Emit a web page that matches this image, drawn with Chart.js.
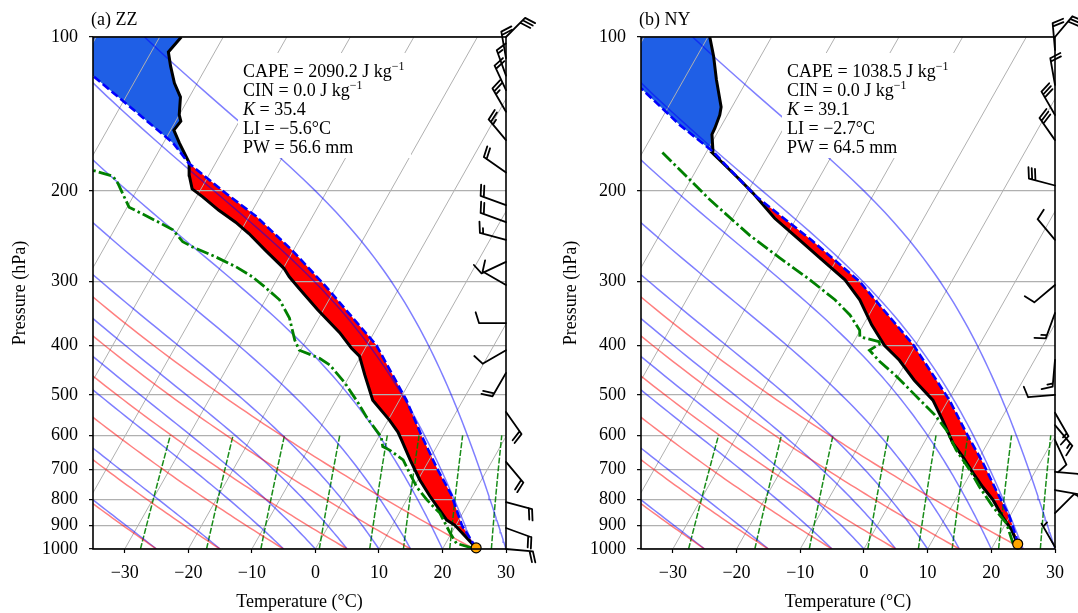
<!DOCTYPE html>
<html>
<head>
<meta charset="utf-8">
<script src="https://cdn.jsdelivr.net/npm/chart.js@4.4.1/dist/chart.umd.min.js"></script>
<style>
  body { margin: 0; background: #fff; width: 1078px; height: 613px; overflow: hidden; position: relative; }
  canvas { position: absolute; top: 0; }
  #ca { left: 0; }
  #cb { left: 539px; }
</style>
</head>
<body>
<canvas id="ca" width="539" height="613"></canvas>
<canvas id="cb" width="539" height="613"></canvas>
<script>
// axes
const tempTicks = [-30, -20, -10, 0, 10, 20, 30];
const pressTicks = [100, 200, 300, 400, 500, 600, 700, 800, 900, 1000];

// background lines of the skew-T (start temperatures at 1000 hPa)
const isothermT = [-90, -80, -70, -60, -50, -40, -30, -20, -10, 0, 10, 20, 30];
const dryT0 = [-35, -25, -15, -5, 5, 15, 25];
const moistT0 = [-35, -25, -15, -5, 0, 5, 10, 15, 20, 25, 30];
const mixRatio = [0.4, 1, 2, 4, 7, 10, 16, 24, 32]; // g/kg

// (a) ZZ
const zzTempP = [995, 898, 878, 788, 733, 670, 613, 591, 560, 512, 457, 420, 405, 378, 341, 310, 294, 283, 261, 242, 230, 218, 205, 198, 186, 176, 161, 152, 146, 142, 131, 123, 114, 107, 100];
const zzTempT = [25.2, 19.8, 18.1, 13.3, 10.3, 7.0, 3.9, 2.6, 0.2, -4.2, -7.7, -10.2, -12.2, -15.4, -20.9, -25.7, -28.3, -29.9, -34.4, -38.5, -41.6, -45.3, -49.1, -51.4, -53.1, -54.2, -57.5, -59.5, -59.2, -60.0, -61.4, -63.6, -65.7, -67.3, -66.6];
const zzDewP = [995, 975, 931, 851, 802, 756, 711, 670, 641, 631, 604, 586, 552, 519, 474, 437, 424, 409, 391, 354, 326, 307, 294, 281, 269, 257, 251, 238, 230, 215, 193, 187, 182, 176];
const zzDewT = [24.5, 21.7, 19.8, 16.4, 13.2, 10.4, 8.1, 5.9, 2.9, 1.5, 0.4, -1.0, -3.7, -6.2, -10.1, -14.1, -16.3, -20.2, -21.8, -24.6, -27.8, -31.4, -34.1, -37.6, -41.6, -46.2, -48.2, -50.8, -53.7, -59.7, -63.6, -65.0, -68.8, -74.0];
const zzParcelP = [995, 900, 784, 700, 600, 512, 400, 307, 261, 224, 202, 176.5, 161, 118.6, 100];
const zzParcelT = [25.2, 21.0, 16.6, 12.2, 6.6, 1.1, -8.5, -21.7, -30.2, -38.9, -45.7, -54.2, -58.5, -77.3, -87.0];
const zzEL = 176.5;
const zzBarbP = [100, 110, 119, 127, 140, 159, 184, 213, 230, 249, 275, 305, 362, 409, 453, 540, 676, 810, 910, 1000];
const zzBarbDir = [45, 350, 340, 335, 330, 320, 305, 290, 290, 285, 245, 300, 270, 240, 210, 145, 140, 105, 110, 95];
const zzBarbSpd = [30, 20, 15, 20, 25, 25, 20, 20, 20, 15, 10, 10, 10, 10, 20, 20, 20, 20, 20, 20];
const zzStats = ['2090.2', '0.0', '35.4', '\u22125.6', '56.6'];

// (b) NY
const nyTempP = [978, 918, 865, 802, 756, 711, 660, 622, 560, 512, 468, 428, 400, 365, 326, 298, 270, 249, 226, 202, 190, 179, 168.7, 166, 155, 150.7, 142, 137, 121, 109, 100];
const nyTempT = [23.7, 21.5, 18.9, 15.9, 13.1, 10.4, 7.3, 4.6, 0.9, -2.4, -7.1, -11.2, -14.9, -18.7, -22.8, -26.9, -32.8, -37.6, -43.4, -49.0, -52.3, -55.6, -58.9, -59.2, -60.7, -60.8, -61.2, -61.7, -64.9, -67.4, -69.7];
const nyDewP = [978, 891, 827, 756, 701, 641, 586, 547, 500, 457, 431, 409, 395, 385, 374, 349, 326, 298, 270, 244, 208, 168];
const nyDewT = [23.0, 20.1, 16.5, 12.6, 9.6, 5.7, 2.4, -0.8, -5.7, -10.6, -14.1, -16.8, -15.5, -19.5, -20.1, -23.0, -26.7, -32.4, -39.1, -45.8, -55.2, -66.9];
const nyParcelP = [978, 946, 865, 767, 680, 594, 512, 400, 300, 250, 205, 190, 167.5, 148.5, 126, 100];
const nyParcelT = [23.7, 22.8, 20.0, 15.5, 11.1, 5.8, 0.2, -10.3, -24.5, -35.5, -48.2, -52.3, -59.0, -66.6, -75.9, -88.5];
const nyEL = 168;
const nyBarbP = [100, 106, 124, 142, 159, 195, 249, 305, 346, 427, 500, 542, 573, 613, 707, 767, 851, 991];
const nyBarbDir = [40, 355, 350, 330, 325, 285, 320, 230, 200, 185, 265, 150, 140, 155, 95, 100, 45, 330];
const nyBarbSpd = [30, 20, 20, 30, 30, 30, 10, 10, 15, 15, 10, 15, 15, 10, 15, 15, 10, 5];
const nyStats = ['1038.5', '0.0', '39.1', '\u22122.7', '64.5'];

const SKEW = 45.5; // degC shift per decade of pressure (35 deg isotherms)
const FONT = '"Liberation Serif", "Times New Roman", serif';

function skewX(t, p) {
  return t + SKEW * Math.log10(1000 / p);
}

function profile(ps, ts) {
  return ps.map((p, i) => ({ x: skewX(ts[i], p), y: p }));
}

function dryLine(t0) {
  const pts = [];
  for (let p = 1000; p >= 100; p -= 10) {
    const t = (t0 + 273.15) * Math.pow(p / 1000, 0.2854) - 273.15;
    pts.push({ x: skewX(t, p), y: p });
  }
  return pts;
}

function satMix(p, tk) {
  const es = 6.112 * Math.exp(17.67 * (tk - 273.15) / (tk - 29.65));
  return 0.622 * es / (p - es);
}

function moistRate(p, tk) {
  const rs = satMix(p, tk);
  const Lv = 2.501e6, Rd = 287.04, Cp = 1005.7;
  return (Rd * tk + Lv * rs) / (Cp + Lv * Lv * rs * 0.622 / (Rd * tk * tk)) / p;
}

function moistLine(t0) {
  const pts = [];
  let t = t0 + 273.15;
  const h = -5;
  for (let p = 1000; p >= 100; p += h) {
    if (p % 10 === 0) pts.push({ x: skewX(t - 273.15, p), y: p });
    const k1 = moistRate(p, t);
    const k2 = moistRate(p + h / 2, t + h / 2 * k1);
    const k3 = moistRate(p + h / 2, t + h / 2 * k2);
    const k4 = moistRate(p + h, t + h * k3);
    t += h / 6 * (k1 + 2 * k2 + 2 * k3 + k4);
  }
  return pts;
}

function mixLine(wg) {
  const w = wg / 1000;
  const pts = [];
  for (let p = 1000; p >= 600; p -= 20) {
    const e = p * w / (0.622 + w);
    const l = Math.log(e / 6.112);
    const td = 243.5 * l / (17.67 - l);
    pts.push({ x: skewX(td, p), y: p });
  }
  return pts;
}

function lineSet(data, color, width, order, dash) {
  return {
    data: data,
    showLine: true,
    borderColor: color,
    borderWidth: width,
    borderDash: dash || [],
    pointRadius: 0,
    fill: false,
    tension: 0,
    clip: 0,
    order: order
  };
}

function drawBarb(ctx, x0, y0, dir, spd, L) {
  const r = dir * Math.PI / 180;
  const sx = Math.sin(r), sy = -Math.cos(r); // staff, toward upwind
  const bx = Math.cos(r), by = Math.sin(r);  // feather side
  const tipX = x0 + sx * L, tipY = y0 + sy * L;
  ctx.beginPath();
  ctx.moveTo(x0, y0);
  ctx.lineTo(tipX, tipY);
  let rest = spd;
  const nFlag = Math.floor(rest / 50); rest -= nFlag * 50;
  const nFull = Math.floor(rest / 10); rest -= nFull * 10;
  const nHalf = rest >= 5 ? 1 : 0;
  const sp = 0.125 * L, fh = 0.4 * L, fw = 0.25 * L;
  let d = 0;
  for (let i = 0; i < nFlag; i++) {
    const px = tipX - sx * d, py = tipY - sy * d;
    ctx.moveTo(px, py);
    ctx.lineTo(px + bx * fh - sx * fw / 2, py + by * fh - sy * fw / 2);
    ctx.lineTo(px - sx * fw, py - sy * fw);
    d += fw + sp;
  }
  for (let i = 0; i < nFull; i++) {
    const px = tipX - sx * d, py = tipY - sy * d;
    ctx.moveTo(px, py);
    ctx.lineTo(px + bx * fh + sx * fw / 2, py + by * fh + sy * fw / 2);
    d += sp;
  }
  if (nHalf) {
    if (nFlag + nFull === 0) d += sp;
    const px = tipX - sx * d, py = tipY - sy * d;
    ctx.moveTo(px, py);
    ctx.lineTo(px + bx * fh / 2 + sx * fw / 4, py + by * fh / 2 + sy * fw / 4);
  }
  ctx.stroke();
}

function makeDecor(s) {
  return {
    id: 'decor',
    beforeDraw(chart) {
      const { ctx, chartArea: a, scales } = chart;
      ctx.save();
      ctx.beginPath();
      ctx.rect(a.left, a.top, a.right - a.left, a.bottom - a.top);
      ctx.clip();
      s.fills.forEach(f => {
        ctx.beginPath();
        f.pts.forEach((pt, i) => {
          const px = scales.x.getPixelForValue(pt.x);
          const py = scales.y.getPixelForValue(pt.y);
          if (i) ctx.lineTo(px, py); else ctx.moveTo(px, py);
        });
        ctx.closePath();
        ctx.fillStyle = f.color;
        ctx.fill();
      });
      ctx.restore();
    },
    afterDatasetsDraw(chart) {
      const { ctx, chartArea: a, scales } = chart;
      ctx.save();
      // stats box
      const tx = a.left + s.textDx;
      ctx.fillStyle = '#fff';
      ctx.fillRect(tx - 5, 53, 173, 105);
      ctx.fillStyle = '#000';
      ctx.textBaseline = 'alphabetic';
      ctx.textAlign = 'left';
      const st = s.stats;
      const rows = [
        [{ t: 'CAPE = ' + st[0] + ' J kg' }, { t: '\u22121', sup: true }],
        [{ t: 'CIN = ' + st[1] + ' J kg' }, { t: '\u22121', sup: true }],
        [{ t: 'K', it: true }, { t: ' = ' + st[2] }],
        [{ t: 'LI = ' + st[3] + '\u00b0C' }],
        [{ t: 'PW = ' + st[4] + ' mm' }]
      ];
      rows.forEach((row, i) => {
        let cx = tx;
        const y = 76.5 + i * 19;
        row.forEach(part => {
          ctx.font = part.sup ? '12px ' + FONT : (part.it ? 'italic 18px ' + FONT : '18px ' + FONT);
          ctx.fillText(part.t, cx, part.sup ? y - 7 : y);
          cx += ctx.measureText(part.t).width;
        });
      });
      // frame
      ctx.strokeStyle = '#000';
      ctx.lineWidth = 1.6;
      ctx.strokeRect(a.left, a.top, a.right - a.left, a.bottom - a.top);
      // panel label and axis titles
      ctx.font = '18px ' + FONT;
      ctx.fillText(s.label, a.left - 2, 24.5);
      ctx.textAlign = 'center';
      ctx.fillText('Temperature (\u00b0C)', (a.left + a.right) / 2, 607);
      ctx.save();
      ctx.translate(s.yTitleX, (a.top + a.bottom) / 2);
      ctx.rotate(-Math.PI / 2);
      ctx.fillText('Pressure (hPa)', 0, 0);
      ctx.restore();
      // wind barbs on the right edge
      ctx.lineWidth = 1.8;
      ctx.lineCap = 'round';
      s.barbP.forEach((p, i) => {
        drawBarb(ctx, a.right, scales.y.getPixelForValue(p), s.barbDir[i], s.barbSpd[i], 27);
      });
      ctx.restore();
    }
  };
}

function buildPanel(id, s) {
  const sets = [];
  isothermT.forEach(t => sets.push(lineSet([{ x: skewX(t, 1000), y: 1000 }, { x: skewX(t, 100), y: 100 }], '#b0b0b0', 1, 12)));
  dryT0.forEach(t => sets.push(lineSet(dryLine(t), 'rgba(255,0,0,0.5)', 1.5, 11)));
  moistT0.forEach(t => sets.push(lineSet(moistLine(t), 'rgba(0,0,255,0.5)', 1.5, 11)));
  mixRatio.forEach(w => sets.push(lineSet(mixLine(w), 'rgba(0,128,0,0.9)', 1.5, 11, [6, 1.8])));

  const parcel = profile(s.parcelP, s.parcelT);
  const temp = profile(s.tempP, s.tempT);
  sets.push(lineSet(temp, '#000', 3, 4));
  sets.push(lineSet(profile(s.dewP, s.dewT), '#008000', 2.8, 3, [12.8, 3.2, 2.5, 3.2]));
  sets.push(lineSet(parcel, '#0000ff', 2.6, 2, [8, 3.5]));
  sets.push({
    data: [{ x: skewX(s.tempT[0], s.tempP[0]), y: s.tempP[0] }],
    pointRadius: 5,
    pointBackgroundColor: '#ffa500',
    pointBorderColor: '#000',
    pointBorderWidth: 1.2,
    showLine: false,
    clip: false,
    order: 0
  });

  const el = s.el;
  const capePts = parcel.filter(pt => pt.y >= el - 1)
    .concat(temp.filter(pt => pt.y >= el - 1).reverse());
  const topPts = parcel.filter(pt => pt.y <= el + 1)
    .concat(temp.filter(pt => pt.y <= el + 1).reverse());
  s.fills = [
    { pts: capePts, color: '#ff0000' },
    { pts: topPts, color: '#1f5fe6' }
  ];

  return new Chart(document.getElementById(id), {
    type: 'scatter',
    data: { datasets: sets },
    options: {
      responsive: false,
      animation: false,
      devicePixelRatio: 1,
      events: [],
      layout: { padding: { left: 0, top: 37, right: s.padRight, bottom: 0 } },
      plugins: { legend: { display: false }, tooltip: { enabled: false } },
      scales: {
        x: {
          type: 'linear',
          min: -35,
          max: 30,
          afterBuildTicks: sc => { sc.ticks = tempTicks.map(v => ({ value: v })); },
          afterFit: sc => { sc.height = 64; },
          grid: { drawOnChartArea: false, drawTicks: true, tickLength: 4, tickColor: '#000', tickWidth: 1.2 },
          border: { display: false },
          ticks: {
            autoSkip: false,
            maxRotation: 0,
            padding: 9,
            color: '#000',
            font: { family: FONT, size: 18 },
            callback: v => (v < 0 ? '\u2212' + Math.abs(v) : String(v))
          }
        },
        y: {
          type: 'logarithmic',
          reverse: true,
          min: 100,
          max: 1000,
          afterBuildTicks: sc => { sc.ticks = pressTicks.map(v => ({ value: v })); },
          afterFit: sc => { sc.width = s.yWidth; },
          grid: { color: '#b0b0b0', lineWidth: 1.3, tickLength: 4, tickColor: '#000', tickWidth: 1.2 },
          border: { display: false },
          ticks: {
            autoSkip: false,
            padding: 11,
            color: '#000',
            font: { family: FONT, size: 18 },
            callback: v => String(v)
          }
        }
      }
    },
    plugins: [makeDecor(s)]
  });
}

buildPanel('ca', {
  tempP: zzTempP, tempT: zzTempT, dewP: zzDewP, dewT: zzDewT,
  parcelP: zzParcelP, parcelT: zzParcelT, el: zzEL,
  barbP: zzBarbP, barbDir: zzBarbDir, barbSpd: zzBarbSpd,
  stats: zzStats, label: '(a) ZZ',
  yWidth: 93, padRight: 33, textDx: 150, yTitleX: 25
});

buildPanel('cb', {
  tempP: nyTempP, tempT: nyTempT, dewP: nyDewP, dewT: nyDewT,
  parcelP: nyParcelP, parcelT: nyParcelT, el: nyEL,
  barbP: nyBarbP, barbDir: nyBarbDir, barbSpd: nyBarbSpd,
  stats: nyStats, label: '(b) NY',
  yWidth: 102, padRight: 23, textDx: 146, yTitleX: 37
});
</script>
</body>
</html>
